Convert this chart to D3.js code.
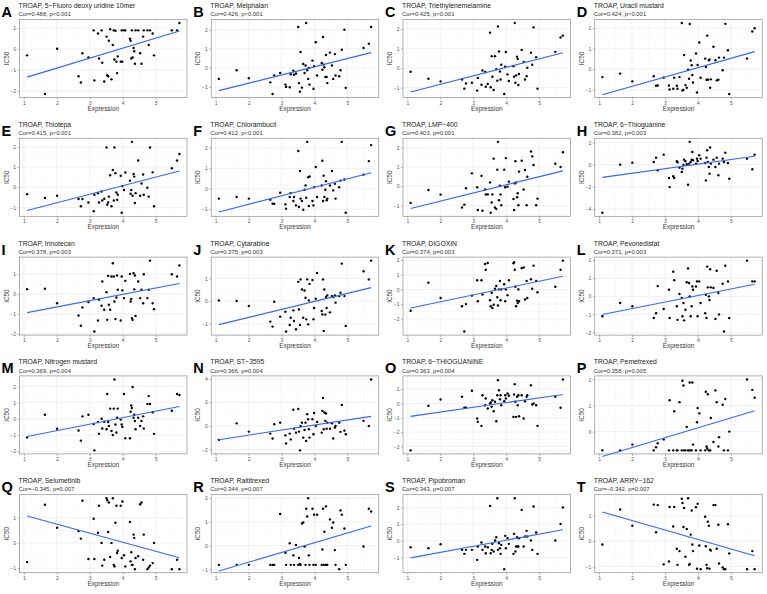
<!DOCTYPE html>
<html>
<head>
<meta charset="utf-8">
<script src="https://cdn.jsdelivr.net/npm/d3@7"></script>
<style>
  html, body { margin: 0; padding: 0; background: #fff; }
  text { font-family: "Liberation Sans", Arial, Helvetica, sans-serif; }
</style>
</head>
<body>
<div id="chart"></div>
<script>
// TROAP expression per cell line (shared by every panel)
const expression = [1.10, 1.64, 2.01, 2.66, 2.73, 2.78, 2.96, 3.12, 3.14, 3.25,
  3.28, 3.36, 3.38, 3.44, 3.51, 3.53, 3.56, 3.58, 3.62, 3.66,
  3.70, 3.73, 3.75, 3.78, 3.81, 3.83, 3.85, 3.94, 3.97, 3.99,
  4.04, 4.08, 4.22, 4.24, 4.26, 4.28, 4.30, 4.33, 4.35, 4.37,
  4.39, 4.47, 4.53, 4.57, 4.62, 4.64, 4.75, 4.79, 4.83, 4.91,
  4.95, 5.49, 5.65, 5.72];

const letters = 'ABCDEFGHIJKLMNOPQRST'.split('');
const drugs = ['5\u2212Fluoro deoxy uridine 10mer', 'Melphalan', 'Triethylenemelamine', 'Uracil mustard',
  'Thiotepa', 'Chlorambucil', 'LMP\u2212400', '6\u2212Thioguanine',
  'Irinotecan', 'Cytarabine', 'DIGOXIN', 'Pevonedistat',
  'Nitrogen mustard', 'ST\u22123595', '6\u2212THIOGUANINE', 'Pemetrexed',
  'Selumetinib', 'Raltitrexed', 'Pipobroman', 'ARRY\u2212162'];
const corText = ['Cor=0.488, p<0.001', 'Cor=0.426, p<0.001', 'Cor=0.425, p<0.001', 'Cor=0.424, p<0.001',
  'Cor=0.415, p<0.001', 'Cor=0.412, p<0.001', 'Cor=0.403, p=0.001', 'Cor=0.382, p=0.003',
  'Cor=0.378, p=0.003', 'Cor=0.375, p=0.003', 'Cor=0.374, p=0.003', 'Cor=0.371, p=0.003',
  'Cor=0.369, p=0.004', 'Cor=0.366, p=0.004', 'Cor=0.363, p=0.004', 'Cor=0.358, p=0.005',
  'Cor=\u22120.345, p=0.007', 'Cor=0.344, p=0.007', 'Cor=0.343, p=0.007', 'Cor=\u22120.342, p=0.007'];
const xBreaks = [1, 2, 3, 4, 5];
const yBreaks = [[-2, -1, 0, 1], [-1, 0, 1, 2], [-1, 0, 1, 2], [-1, 0, 1, 2],
  [-1, 0, 1, 2], [-1, 0, 1, 2], [-1, 0, 1, 2], [-4, -2, 0, 2],
  [-2, -1, 0, 1], [-1, 0, 1], [-2, -1, 0, 1, 2], [-2, -1, 0, 1, 2],
  [-2, -1, 0, 1, 2], [-2, 0, 2, 4], [-3, -2, -1, 0, 1], [-1, 0, 1, 2],
  [-1, 0, 1], [-1, 0, 1, 2], [-1, 0, 1, 2], [-1, 0, 1]];

// IC50 per drug, same cell-line order as expression
const ic50A = [-0.3, -2.15, 0.02, -1.3, -1.6, -0.2, -0.4, 0.9, -1.5, 0.75, -0.45, 0.9, -0.65, -1.55, 0.6, -1.25, -1.3, 0.4, 0.95, -1.45, 0.2, 0.9, -0.5, 0.88, -0.6, -1.15, -0.35, -0.6, 0.9, -0.6, 0.9, 0.9, 0.5, 0.4, -0.45, 0.9, -0.4, 0.05, -0.1, -0.7, 0.9, 0.9, -0.2, -0.7, 0.6, 0.9, 0.9, 0.2, 0.9, 0.75, -0.3, 0.9, 0.9, 1.25];
const ic50B = [-0.58, -0.13, -0.55, -0.76, -1.37, -0.4, -0.27, -0.88, -1.0, -1.02, -0.34, -0.15, -0.36, -0.3, 2.14, -0.8, -1.25, 0.83, -1.04, 0.2, -0.27, 0.12, 2.35, -0.13, -0.58, 0, -0.88, 0.38, -1.1, 0.08, 1.34, -0.4, 0.25, -0.1, 1.62, 0.17, 0.03, -0.48, 0.67, -0.48, -0.8, 0.8, 0.12, -0.58, 0.72, -0.4, -0.44, -0.13, 0.95, 2.0, -1.05, 1.04, 1.26, 2.14];
const ic50C = [-0.19, -0.54, -0.68, -0.58, -1.05, -0.78, -0.75, -1.15, -0.5, -0.85, -0.12, -0.2, -0.95, -0.81, 1.81, -0.98, 0.61, -0.44, -1.12, 0.61, -0.05, -0.64, 2.12, 0.85, -0.17, -0.58, 0.17, -1.32, 0.07, 0.82, -0.32, -0.66, 0.1, -0.44, 2.3, -0.75, -0.37, 0.58, 0.47, -0.86, -0.3, 0.93, 0.32, -0.58, -0.41, 0.02, 0.78, 0.17, 2.08, 0.56, -1.05, 0.83, 1.56, 1.66];
const ic50D = [-0.38, -0.21, -0.59, -0.34, -0.8, -0.79, -0.41, -0.79, -0.98, -0.95, -0.41, -0.8, -0.95, -0.38, 2.25, -1.03, -1.0, 0.69, -0.77, -0.9, -0.02, -0.46, 2.2, 0.43, 0.2, -0.28, -0.64, 0.77, -1.13, 0.21, 1.3, -0.41, 0.52, 0.11, -0.51, 1.64, -0.51, 0.44, 0.48, -0.9, -0.49, 1.1, 0.44, -0.54, -0.51, 0.57, -0.05, 0.57, 2.21, 0.93, -1.2, 0.52, 1.84, 2.0];
const ic50E = [-0.34, -0.53, -0.42, -0.58, -0.94, -0.58, -0.75, -1.18, -0.37, -0.29, -0.75, -0.21, -0.65, -0.57, 1.97, -0.86, -0.75, -0.46, 0.6, -0.94, 0.86, -0.65, 1.97, 0.7, -0.26, -0.62, -0.37, 0.57, -1.26, 0.06, -0.13, 0.73, 0.33, -0.32, -0.13, 2.25, -0.42, 0.66, 0.53, -0.78, -0.29, 1.33, -0.42, 0.19, 0.63, -0.37, -0.02, -0.46, 1.97, 0.74, -0.94, 0.94, 1.33, 1.65];
const ic50F = [-0.48, -0.4, -0.48, -0.53, -0.73, -0.73, -0.19, -0.76, -0.97, -0.4, -0.21, -0.6, -0.4, -0.81, 1.84, -0.89, 0.87, -0.48, -0.6, -1.02, -0.05, 0.16, -0.44, 2.29, 0.56, -0.84, 0.6, -0.6, -0.81, 0.08, 1.06, -0.4, 0.16, 1.37, -0.6, 0.64, -0.4, -0.05, 0.37, -0.56, -0.48, 0.16, 0.87, -0.08, 0.24, -0.48, 0.08, 0.4, 2.29, 0.45, -1.17, 0.69, 1.35, 2.13];
const ic50G = [-0.86, -0.19, -0.43, -1.1, -0.95, -0.1, 0.67, -0.05, -1.23, 0.54, -1.27, -0.17, -0.42, -0.42, 0.2, -1.37, -0.84, -0.42, 1.43, -1.1, -1.18, 0.86, 2.3, -0.72, 0.03, -0.42, -0.98, 0.86, -0.05, 1.46, -0.02, 0.24, -0.66, -1.23, 0.15, 1.3, 0.2, -0.57, -0.36, -0.98, 0.76, 1.32, -0.17, 0.84, -0.98, 0.49, 1.8, 1.55, 1.1, -0.98, -0.64, 1.17, 1.0, 1.76];
const ic50H = [-4.33, 0.0, 0.18, 0.24, 0.63, -0.51, 0.9, -1.2, -2.02, -1.05, -1.2, 0.3, 0.21, -0.27, -0.66, -0.36, -0.03, 0.45, 0.3, 0.03, -1.81, 0.09, 2.05, 0.24, 0.45, 1.14, 0.39, 0.09, 0.54, 0.33, 0.84, 0.54, 0.15, -1.42, 0.63, 1.3, 0.24, -0.21, -0.81, 1.54, 0.09, 0.45, -0.21, 0.63, -0.96, 0.09, 0.54, 0.24, 1.08, 0.15, -1.27, 0.54, -0.42, 0.9];
const ic50I = [0.25, 0.27, -0.46, -1.08, -1.6, -0.67, -0.4, -0.2, -1.89, -1.33, -0.28, -0.59, 0.64, -0.79, 0.1, -1.3, 0.92, -0.54, -0.79, 0.89, 1.56, 0.89, -0.37, -1.26, -0.17, 0.94, 0.22, -1.33, 0.89, 0.19, -0.2, 0.67, 1.02, -0.37, -0.25, -1.21, -1.3, 1.05, 0.24, 0.94, -1.1, 0.64, -0.2, 0.22, -0.46, 1.0, -0.2, 0.22, 1.69, -0.46, -0.76, 1.0, 0.89, 1.45];
const ic50J = [0.03, 0.0, -0.22, -0.91, -1.13, -0.03, -0.69, -0.47, -1.35, -1.06, -0.74, -0.41, -0.88, -1.25, 0.85, -0.37, -1.06, 0.96, 0.51, -0.74, 0.47, 0.15, -0.81, 0.96, -1.03, 0.03, 0.76, 0.93, -0.81, -0.31, 0.1, 1.24, -0.44, -0.59, 0.96, -1.32, 0.51, -0.6, 0.18, -0.31, 0.25, -0.5, 0.22, 0.18, 0.25, -0.07, 0.22, 0.37, 1.66, 0.22, -1.1, 1.32, 0.96, 1.79];
const ic50K = [-1.45, 0.46, -0.58, -1.15, -2.87, -1.0, -0.42, 0.62, -0.81, 0.62, -0.35, 1.73, 1.34, 1.8, -0.74, -1.15, -0.23, -1.27, -1.04, 0.05, 0.23, -0.53, -1.1, 0, 0.58, -0.74, 0, 0.35, -0.81, 0, -0.39, 0.62, 1.78, 1.85, 1.34, 0.18, -1.15, -0.76, -0.92, 0, -0.81, 1.45, 1.5, -0.69, 0.58, -0.58, 0.69, 0.05, 1.62, 0.58, -0.19, 0.18, 1.34, 1.96];
const ic50L = [-1.1, -0.37, -0.55, -1.2, -0.93, 0.57, -0.7, 0.37, -1.2, 1.37, 0.9, -0.55, -1.3, 0.13, -0.09, -1.1, -0.37, -1.33, -0.74, 0.78, 1.55, 0.74, 0.0, -1.1, -0.55, 0.55, 0.37, 0.55, 0.83, -1.1, 0.83, -0.37, -0.93, 0.09, -1.2, 1.65, 0.5, 0.0, -0.2, 1.5, 0.5, 0.46, -1.25, 1.42, 0.18, -1.0, 0.7, -1.95, 1.7, 0.83, -1.2, 1.98, 0.83, 0.83];
const ic50M = [-1.15, 0.25, -0.62, -0.72, -1.35, 0.15, 0.25, -0.32, -1.95, -0.2, -0.93, 0.0, -0.6, -0.18, -0.65, 1.53, -0.2, -0.44, 0.63, -0.75, -1.0, 0.63, 2.43, -0.35, -0.85, 0.06, 0.63, -0.05, -0.35, -0.5, 1.53, -1.2, -1.2, 0.43, 0.82, 0.67, 1.96, 0.06, 0.25, -0.14, -0.65, 0.06, -0.44, -0.14, 0.15, -0.6, 0.91, 1.4, 0.91, 0.4, -0.93, 0.5, 1.53, 1.47];
const ic50N = [-1.18, 0.22, -0.48, -0.65, -1.07, 0.14, 0.28, -0.8, -1.48, -0.65, -1.14, 1.37, -0.23, -0.57, 1.43, -0.48, -2.07, 0.0, 0.28, -0.99, -0.34, 0.28, -1.27, 1.0, 0.57, -0.28, -0.99, 0.57, -0.71, 1.09, 0.0, 0.34, -0.57, 1.28, 2.37, -0.28, 1.14, 0.43, 1.06, -0.23, 0.28, -0.23, 0.22, -1.07, -0.14, 0.0, 0.28, -0.5, 1.77, -0.4, -0.71, 0.43, 0.0, 3.94];
const ic50O = [-3.27, -0.16, 0.28, 0.47, -0.3, -0.3, 0.89, -1.05, -1.28, -1.56, 0.58, -0.12, 0.35, -0.35, 0.0, 0.07, -0.23, 0.23, -0.54, 0.12, -1.24, 0.58, 1.63, 0.93, 0.3, 0.58, -0.12, 0.16, 0.58, 0.35, 0.7, 0.54, -0.93, 0.63, 1.35, 0.12, -0.93, 0.47, -0.12, 0.58, -0.89, 0.58, -1.05, 0.16, 0.47, 0.58, 1.28, -0.07, 0.0, -0.12, -1.56, 0.47, -0.3, 1.68];
const ic50P = [-0.72, -0.72, -0.5, -0.72, -0.6, -0.45, -0.3, -0.72, 1.2, -0.72, 0.78, -0.72, -0.72, 1.13, -0.72, 1.95, 1.77, -0.72, -0.72, 0.18, -0.72, -0.72, 1.88, -0.72, -0.72, 1.88, -0.5, -0.72, 0.36, 0.9, 0.7, -0.72, -0.72, 1.53, -0.57, -0.65, 1.43, -0.72, -0.72, -0.72, 0.52, -0.4, 1.58, 1.13, -0.57, -0.22, 1.03, -0.72, 1.25, -0.72, 0.0, 2.0, 1.6, 1.3];
const ic50Q = [-0.76, 1.51, 0.6, 0.47, 0.17, 1.67, -0.64, 0.96, -0.64, 0.4, 1.47, 0.0, -0.9, -0.67, 1.77, 1.69, 0.43, 1.6, -0.56, 0.0, 1.77, -0.87, -0.93, 0.8, 1.47, -0.4, -0.31, 1.47, -0.6, 1.64, -0.49, -0.93, 0.83, -0.73, -0.37, -0.87, -0.87, 0.33, 0.2, -1.04, -0.6, -0.53, 1.53, 1.6, -0.67, 0.33, -1.04, -0.97, -0.9, -0.8, 0.0, -1.04, -0.67, -1.04];
const ic50R = [-0.81, -0.81, -0.81, -0.81, -0.81, -0.81, 1.33, -0.3, -0.81, 0.1, -0.81, -0.41, -0.81, 0.03, -0.81, -0.52, -0.77, -0.81, 0.93, 0.97, -0.04, -0.81, 1.55, 1.22, 1.99, -0.41, -0.81, 1.55, -0.81, 1.3, -0.81, 1.3, -0.81, -0.16, 1.55, -0.81, 0.58, -0.81, 1.65, -0.81, -0.81, 1.1, 0.75, 0.97, -0.19, -0.81, -0.99, 1.48, 1.3, 0.72, -0.81, -0.04, 1.55, 1.43];
const ic50S = [-0.38, -0.44, -0.2, -0.54, -0.78, -0.54, -0.54, -1.14, -0.34, -0.1, -0.54, -0.34, -0.74, -0.38, 2.1, -0.74, -0.54, -0.18, -0.64, 0.02, 0.22, 2.56, -0.54, -0.14, -0.44, -0.78, -0.24, -1.7, 0.3, -0.44, 0.16, -0.18, -0.78, 0.42, 2.56, -0.64, -0.34, 0.22, -0.34, -0.34, 0.16, 1.86, -0.34, 0.26, 0.6, 0.26, 0.02, -0.54, 2.06, 0.5, -0.78, 0.02, 1.02, 2.0];
const ic50T = [-0.13, 1.25, 0.61, 1.44, 0.35, 1.42, -0.91, -0.8, 1.35, 0.58, 1.35, -0.3, -0.93, -0.39, 1.67, 1.5, 0.56, 1.31, -0.61, 0.48, 1.69, -0.93, -0.9, 0.26, 1.21, -0.13, -0.39, 1.34, -1.08, 1.47, -0.17, -1.1, 0.96, -0.2, -0.93, -1.06, 0.77, 0.61, -1.08, -0.33, -0.37, 1.42, 1.42, -0.3, 0.65, -0.88, -1.03, -1.1, -1.1, 0.67, -0.48, -1.1, -0.39, -1.1];

const ic50 = [ic50A, ic50B, ic50C, ic50D, ic50E, ic50F, ic50G, ic50H, ic50I, ic50J,
  ic50K, ic50L, ic50M, ic50N, ic50O, ic50P, ic50Q, ic50R, ic50S, ic50T];

const width = 767, height = 594;
const cols = 4, rows = 5;
const cellW = width / cols, cellH = height / rows;
const plot = { left: 19.5, right: 187, top: 19.5, bottom: 97.5 };

const svg = d3.select('#chart').append('svg')
    .attr('width', width)
    .attr('height', height);

// ggplot style: 5% expansion, minor breaks halfway between majors
function expand(ext) {
    const pad = (ext[1] - ext[0]) * 0.05;
    return [ext[0] - pad, ext[1] + pad];
}
function minors(breaks, domain) {
    const step = breaks[1] - breaks[0];
    const out = [];
    for (let v = breaks[0] - step / 2; v <= breaks[breaks.length - 1] + step / 2 + 1e-9; v += step) {
        if (v > domain[0] && v < domain[1]) out.push(v);
    }
    return out;
}
function linearFit(xs, ys) {
    const mx = d3.mean(xs), my = d3.mean(ys);
    let sxy = 0, sxx = 0;
    xs.forEach((x, i) => { sxy += (x - mx) * (ys[i] - my); sxx += (x - mx) * (x - mx); });
    const b = sxy / sxx;
    return { a: my - b * mx, b: b };
}

const xDomain = expand(d3.extent(expression));

letters.forEach((letter, i) => {
    const col = i % cols, row = Math.floor(i / cols);
    const values = ic50[i];
    const n = Math.min(values.length, expression.length);
    const pts = d3.range(n).map(k => [expression[k], values[k]]);

    const g = svg.append('g')
        .attr('transform', 'translate(' + (col * cellW) + ',' + (row * cellH) + ')');

    const x = d3.scaleLinear().domain(xDomain).range([plot.left, plot.right]);
    const yDomain = expand(d3.extent(pts, d => d[1]));
    const y = d3.scaleLinear().domain(yDomain).range([plot.bottom, plot.top]);
    const yb = yBreaks[i].filter(v => v >= yDomain[0] && v <= yDomain[1]);

    //grid
    const grid = g.append('g');
    grid.selectAll('.xminor').data(minors(xBreaks, xDomain)).join('line')
        .attr('x1', d => x(d)).attr('x2', d => x(d))
        .attr('y1', plot.top).attr('y2', plot.bottom)
        .attr('stroke', '#f3f3f3').attr('stroke-width', 0.4);
    grid.selectAll('.yminor').data(minors(yBreaks[i], yDomain)).join('line')
        .attr('x1', plot.left).attr('x2', plot.right)
        .attr('y1', d => y(d)).attr('y2', d => y(d))
        .attr('stroke', '#f3f3f3').attr('stroke-width', 0.4);
    grid.selectAll('.xmajor').data(xBreaks).join('line')
        .attr('x1', d => x(d)).attr('x2', d => x(d))
        .attr('y1', plot.top).attr('y2', plot.bottom)
        .attr('stroke', '#e8e8e8').attr('stroke-width', 0.6);
    grid.selectAll('.ymajor').data(yb).join('line')
        .attr('x1', plot.left).attr('x2', plot.right)
        .attr('y1', d => y(d)).attr('y2', d => y(d))
        .attr('stroke', '#e8e8e8').attr('stroke-width', 0.6);

    //points
    g.append('g').selectAll('circle')
        .data(pts)
        .join('circle')
        .attr('cx', d => x(d[0]))
        .attr('cy', d => y(d[1]))
        .attr('r', 1.2)
        .attr('fill', '#000');

    //lm fit
    const fit = linearFit(pts.map(d => d[0]), pts.map(d => d[1]));
    const xr = d3.extent(expression);
    g.append('path')
        .datum(xr)
        .attr('fill', 'none')
        .attr('stroke', '#3366FF')
        .attr('stroke-width', 1.1)
        .attr('d', d3.line().x(d => x(d)).y(d => y(fit.a + fit.b * d)));

    g.append('rect')
        .attr('x', plot.left).attr('y', plot.top)
        .attr('width', plot.right - plot.left)
        .attr('height', plot.bottom - plot.top)
        .attr('fill', 'none')
        .attr('stroke', '#8f8f8f')
        .attr('stroke-width', 0.7);

    //axes
    const xAxis = g.append('g')
        .attr('transform', 'translate(0,' + plot.bottom + ')')
        .call(d3.axisBottom(x).tickValues(xBreaks).tickSize(2).tickPadding(1.5).tickFormat(d3.format('d')));
    const yAxis = g.append('g')
        .attr('transform', 'translate(' + plot.left + ',0)')
        .call(d3.axisLeft(y).tickValues(yb).tickSize(2).tickPadding(1.5).tickFormat(d3.format('d')));
    [xAxis, yAxis].forEach(ax => {
        ax.select('.domain').remove();
        ax.selectAll('.tick line').attr('stroke', '#666').attr('stroke-width', 0.5);
        ax.selectAll('.tick text').attr('fill', '#555').attr('font-size', 5)
            .attr('font-family', '"Liberation Sans", Arial, sans-serif');
    });

    //labels
    g.append('text')
        .attr('x', (plot.left + plot.right) / 2).attr('y', 110.5)
        .attr('text-anchor', 'middle').attr('font-size', 6.4).attr('fill', '#3a3a3a')
        .text('Expression');
    g.append('text')
        .attr('transform', 'translate(8.5,' + ((plot.top + plot.bottom) / 2) + ') rotate(-90)')
        .attr('text-anchor', 'middle').attr('font-size', 6.4).attr('fill', '#3a3a3a')
        .text('IC50');
    g.append('text')
        .attr('x', 18.5).attr('y', 8)
        .attr('font-size', 6.8).attr('fill', '#222')
        .text('TROAP, ' + drugs[i]);
    g.append('text')
        .attr('x', 18.5).attr('y', 16.3)
        .attr('font-size', 5.9).attr('fill', '#333')
        .text(corText[i]);
    g.append('text')
        .attr('x', 1.5).attr('y', 17)
        .attr('font-size', 14.5).attr('font-weight', 'bold').attr('fill', '#000')
        .text(letter);
});
</script>
</body>
</html>
